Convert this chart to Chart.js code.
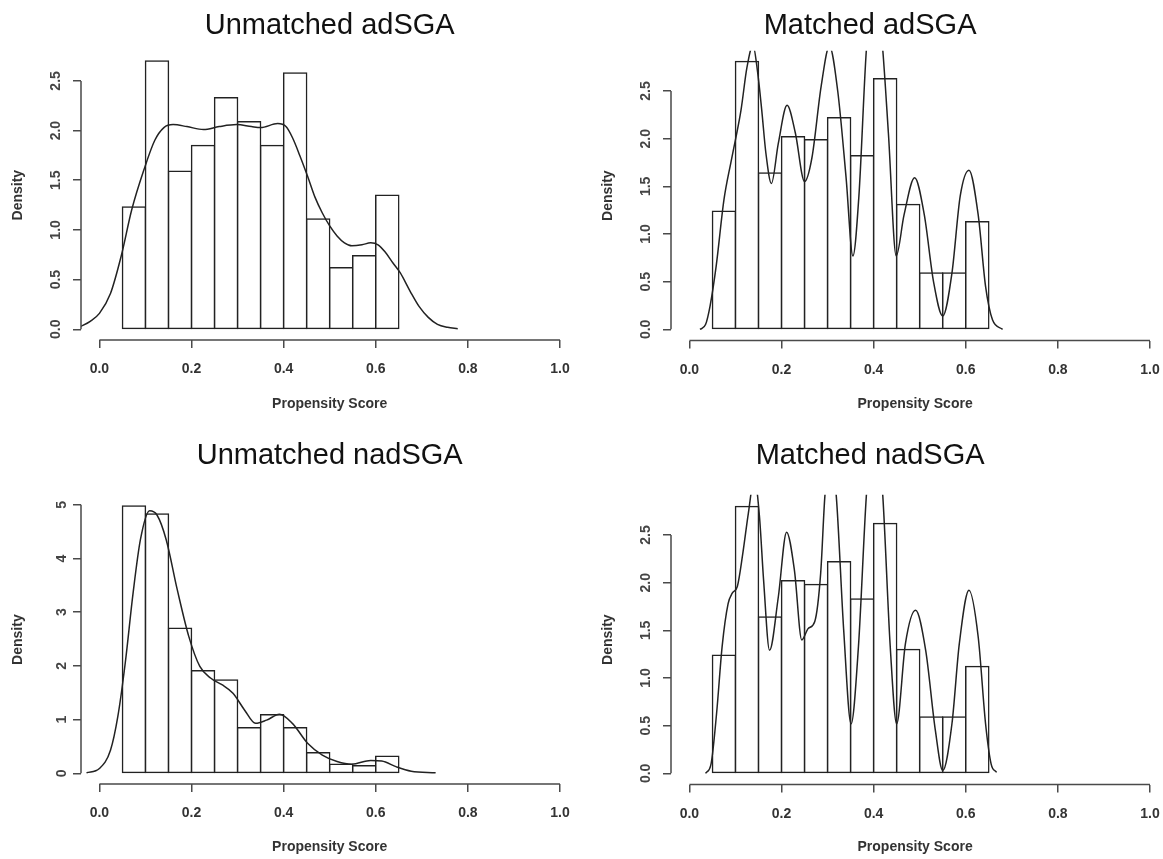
<!DOCTYPE html>
<html>
<head>
<meta charset="utf-8">
<script src="https://cdn.jsdelivr.net/npm/chart.js@4.4.1/dist/chart.umd.min.js"></script>
<style>
  body { margin: 0; background: #fff; }
  canvas { position: absolute; }
</style>
</head>
<body>
<canvas id="c1" width="581" height="430" style="left:0;top:0"></canvas>
<canvas id="c2" width="582" height="430" style="left:581px;top:0"></canvas>
<canvas id="c3" width="581" height="429" style="left:0;top:430px"></canvas>
<canvas id="c4" width="582" height="429" style="left:581px;top:430px"></canvas>
<script>
// histogram bins (width 0.05, from 0.05 to 0.65)
const binMids = [0.075, 0.125, 0.175, 0.225, 0.275, 0.325, 0.375, 0.425, 0.475, 0.525, 0.575, 0.625];

const xTicks = [0, 0.2, 0.4, 0.6, 0.8, 1];
const xTickLabels = ['0.0', '0.2', '0.4', '0.6', '0.8', '1.0'];
const yTicksHalf = [0, 0.5, 1, 1.5, 2, 2.5];
const yTickLabelsHalf = ['0.0', '0.5', '1.0', '1.5', '2.0', '2.5'];
const yTicksInt = [0, 1, 2, 3, 4, 5];
const yTickLabelsInt = ['0', '1', '2', '3', '4', '5'];

// bar heights (density)
const histUnmatchedAd = [1.23, 2.70, 1.59, 1.85, 2.33, 2.09, 1.85, 2.58, 1.11, 0.62, 0.74, 1.35];
const histMatchedAd = [1.24, 2.81, 1.64, 2.02, 1.99, 2.22, 1.82, 2.63, 1.31, 0.59, 0.59, 1.13];
const histUnmatchedNad = [4.98, 4.83, 2.70, 1.91, 1.74, 0.85, 1.09, 0.85, 0.385, 0.17, 0.14, 0.32];
const histMatchedNad = [1.24, 2.80, 1.64, 2.02, 1.98, 2.22, 1.83, 2.62, 1.30, 0.59, 0.59, 1.12];

// kernel density curves
const densUnmatchedAdX = [-0.044, -0.02, 0.0, 0.024, 0.048, 0.07, 0.097, 0.12, 0.14, 0.16, 0.19, 0.226, 0.26, 0.298, 0.33, 0.35, 0.387, 0.405, 0.419, 0.435, 0.452, 0.468, 0.484, 0.5, 0.516, 0.532, 0.548, 0.57, 0.589, 0.605, 0.62, 0.637, 0.653, 0.675, 0.694, 0.714, 0.734, 0.756, 0.778];
const densUnmatchedAdY = [0.02, 0.08, 0.16, 0.36, 0.75, 1.2, 1.61, 1.9, 2.03, 2.06, 2.04, 2.01, 2.04, 2.06, 2.04, 2.03, 2.07, 2.04, 1.93, 1.75, 1.54, 1.33, 1.17, 1.04, 0.94, 0.87, 0.84, 0.85, 0.87, 0.85, 0.78, 0.67, 0.57, 0.38, 0.23, 0.12, 0.05, 0.02, 0.005];

const densMatchedAdX = [0.023, 0.035, 0.045, 0.058, 0.075, 0.09, 0.1, 0.112, 0.125, 0.138, 0.148, 0.157, 0.166, 0.178, 0.193, 0.212, 0.23, 0.25, 0.266, 0.286, 0.304, 0.322, 0.34, 0.355, 0.368, 0.384, 0.402, 0.42, 0.432, 0.449, 0.466, 0.489, 0.51, 0.53, 0.55, 0.57, 0.588, 0.607, 0.627, 0.643, 0.658, 0.68];
const densMatchedAdY = [0.0, 0.05, 0.25, 0.66, 1.36, 1.75, 1.99, 2.3, 2.75, 2.98, 2.7, 2.3, 1.85, 1.53, 1.95, 2.35, 2.06, 1.55, 1.8, 2.55, 2.97, 2.5, 1.6, 0.77, 1.4, 2.92, 3.8, 2.92, 2.06, 0.77, 1.2, 1.59, 1.2, 0.5, 0.14, 0.59, 1.4, 1.67, 1.2, 0.45, 0.1, 0.0];

const densUnmatchedNadX = [-0.028, 0.0, 0.024, 0.04, 0.056, 0.073, 0.089, 0.109, 0.125, 0.145, 0.169, 0.194, 0.218, 0.242, 0.266, 0.29, 0.315, 0.339, 0.363, 0.391, 0.419, 0.452, 0.484, 0.516, 0.548, 0.589, 0.613, 0.645, 0.677, 0.73];
const densUnmatchedNadY = [0.01, 0.09, 0.43, 1.06, 2.05, 3.35, 4.35, 4.89, 4.81, 4.35, 3.42, 2.55, 1.99, 1.77, 1.65, 1.49, 1.18, 0.93, 0.99, 1.1, 0.93, 0.56, 0.34, 0.22, 0.17, 0.24, 0.23, 0.12, 0.04, 0.01];

const densMatchedNadX = [0.035, 0.047, 0.059, 0.071, 0.084, 0.093, 0.104, 0.116, 0.128, 0.141, 0.152, 0.161, 0.174, 0.193, 0.211, 0.228, 0.244, 0.258, 0.272, 0.285, 0.294, 0.306, 0.319, 0.335, 0.351, 0.367, 0.384, 0.402, 0.42, 0.436, 0.45, 0.469, 0.491, 0.513, 0.534, 0.55, 0.57, 0.586, 0.607, 0.627, 0.643, 0.655, 0.667];
const densMatchedNadY = [0.0, 0.1, 0.63, 1.33, 1.78, 1.89, 1.96, 2.31, 2.73, 3.1, 2.7, 2.03, 1.29, 1.85, 2.53, 2.13, 1.4, 1.52, 1.59, 2.1, 2.9, 3.4, 2.9, 1.5, 0.52, 1.33, 2.9, 3.9, 2.9, 1.33, 0.52, 1.36, 1.71, 1.29, 0.45, 0.03, 0.52, 1.36, 1.92, 1.43, 0.52, 0.1, 0.01];

const FONT = "'Liberation Sans', Arial, Helvetica, sans-serif";
const INK = '#222';
const AXIS = '#4a4a4a';

// R style axis lines: only from the first to the last tick
const rAxes = {
  id: 'rAxes',
  afterDraw(chart) {
    const { ctx, chartArea, scales: { x, y } } = chart;
    ctx.save();
    ctx.strokeStyle = AXIS;
    ctx.lineWidth = 1.5;
    ctx.beginPath();
    ctx.moveTo(x.getPixelForValue(x.ticks[0].value), chartArea.bottom);
    ctx.lineTo(x.getPixelForValue(x.ticks[x.ticks.length - 1].value), chartArea.bottom);
    ctx.moveTo(chartArea.left, y.getPixelForValue(y.ticks[0].value));
    ctx.lineTo(chartArea.left, y.getPixelForValue(y.ticks[y.ticks.length - 1].value));
    ctx.stroke();
    ctx.restore();
  }
};

function panel(id, o) {
  return new Chart(document.getElementById(id), {
    type: 'bar',
    data: {
      datasets: [
        {
          type: 'line',
          data: o.dx.map((x, i) => ({ x: x, y: o.dy[i] })),
          borderColor: INK,
          borderWidth: 1.5,
          pointRadius: 0,
          cubicInterpolationMode: 'monotone',
          order: 0
        },
        {
          type: 'bar',
          data: binMids.map((x, i) => ({ x: x, y: o.hist[i] })),
          backgroundColor: '#fff',
          borderColor: INK,
          borderWidth: 1.5,
          borderSkipped: false,
          inflateAmount: 0.75,
          barPercentage: 1,
          categoryPercentage: 1,
          order: 1
        }
      ]
    },
    options: {
      responsive: false,
      animation: false,
      layout: { padding: { left: 0, right: o.padRight, top: 0, bottom: 0 } },
      plugins: {
        legend: { display: false },
        tooltip: { enabled: false },
        title: {
          display: true,
          text: o.title,
          color: '#111',
          fullSize: o.titleFull,
          font: { family: FONT, size: 29, weight: 'normal' },
          padding: { top: o.titleTop, bottom: o.titleBottom }
        }
      },
      scales: {
        x: {
          type: 'linear',
          min: o.xMin,
          max: o.xMax,
          offset: false,
          border: { display: false },
          grid: { offset: false, drawOnChartArea: false, drawTicks: true, tickLength: 8, color: AXIS, lineWidth: 1.5 },
          ticks: {
            padding: 13,
            color: '#333',
            autoSkip: false,
            maxRotation: 0,
            font: { family: FONT, size: 14, weight: 'bold' },
            callback: (v, i) => xTickLabels[i]
          },
          afterBuildTicks: s => { s.ticks = xTicks.map(v => ({ value: v })); },
          afterFit: s => { s.height = o.xAxisH; s.paddingLeft = 0; s.paddingRight = 0; },
          title: {
            display: true,
            text: 'Propensity Score',
            color: '#333',
            font: { family: FONT, size: 14, weight: 'bold' },
            padding: { top: 0, bottom: o.xTitlePad }
          }
        },
        y: {
          type: 'linear',
          min: o.yMin,
          max: o.yMax,
          border: { display: false },
          grid: { drawOnChartArea: false, drawTicks: true, tickLength: 8, color: AXIS, lineWidth: 1.5 },
          ticks: {
            padding: 7,
            color: '#444',
            minRotation: 90,
            maxRotation: 90,
            crossAlign: 'center',
            autoSkip: false,
            font: { family: FONT, size: 14, weight: 'bold' },
            callback: (v, i) => o.yLabels[i]
          },
          afterBuildTicks: s => { s.ticks = o.yTicks.map(v => ({ value: v })); },
          afterFit: s => { s.width = o.yAxisW; s.paddingTop = 0; s.paddingBottom = 0; },
          title: {
            display: true,
            text: 'Density',
            color: '#333',
            font: { family: FONT, size: 14, weight: 'bold' },
            padding: { top: o.yTitlePad, bottom: 0 }
          }
        }
      }
    },
    plugins: [rAxes]
  });
}

panel('c1', {
  title: 'Unmatched adSGA', hist: histUnmatchedAd, dx: densUnmatchedAdX, dy: densUnmatchedAdY,
  yTicks: yTicksHalf, yLabels: yTickLabelsHalf, titleFull: false,
  xMin: -0.04, xMax: 1.04, yMin: -0.108, yMax: 2.808,
  padRight: 2.6, yAxisW: 81, xAxisH: 90, titleTop: 9, titleBottom: 6.5, xTitlePad: 17.2, yTitlePad: 9.6
});
panel('c2', {
  title: 'Matched adSGA', hist: histMatchedAd, dx: densMatchedAdX, dy: densMatchedAdY,
  yTicks: yTicksHalf, yLabels: yTickLabelsHalf, titleFull: true,
  xMin: -0.04, xMax: 1.02, yMin: -0.117, yMax: 2.922,
  padRight: 3.8, yAxisW: 90, xAxisH: 89.5, titleTop: 9, titleBottom: 7, xTitlePad: 17.2, yTitlePad: 18.6
});
panel('c3', {
  title: 'Unmatched nadSGA', hist: histUnmatchedNad, dx: densUnmatchedNadX, dy: densUnmatchedNadY,
  yTicks: yTicksInt, yLabels: yTickLabelsInt, titleFull: false,
  xMin: -0.04, xMax: 1.04, yMin: -0.199, yMax: 5.179,
  padRight: 2.6, yAxisW: 81, xAxisH: 75, titleTop: 8.5, titleBottom: 21.9, xTitlePad: 3.2, yTitlePad: 9.6
});
panel('c4', {
  title: 'Matched nadSGA', hist: histMatchedNad, dx: densMatchedNadX, dy: densMatchedNadY,
  yTicks: yTicksHalf, yLabels: yTickLabelsHalf, titleFull: true,
  xMin: -0.04, xMax: 1.02, yMin: -0.117, yMax: 2.922,
  padRight: 3.8, yAxisW: 90, xAxisH: 74.5, titleTop: 8.5, titleBottom: 21.5, xTitlePad: 3.2, yTitlePad: 18.6
});
</script>
</body>
</html>
